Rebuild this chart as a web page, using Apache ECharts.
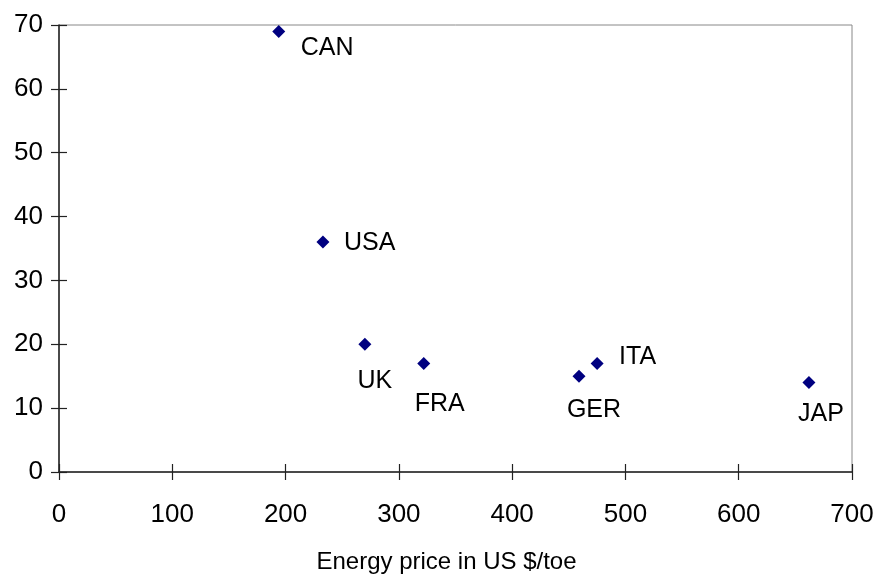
<!DOCTYPE html>
<html>
<head>
<meta charset="utf-8">
<script src="https://cdn.jsdelivr.net/npm/echarts@6/dist/echarts.min.js"></script>
<style>
html,body{margin:0;padding:0;background:#fff;}
#chart{width:882px;height:579px;}
</style>
</head>
<body>
<div id="chart"></div>
<script>
// Data
var countries = ['CAN', 'USA', 'UK', 'FRA', 'GER', 'ITA', 'JAP'];
var energyPrice = [194, 233, 270, 322, 459, 475, 662];
var yValues = [69, 36, 20, 17, 15, 17, 14];
var xTicks = [0, 100, 200, 300, 400, 500, 600, 700];
var yTicks = [0, 10, 20, 30, 40, 50, 60, 70];
var xTitle = 'Energy price in US $/toe';

// label layout (styling, kept apart from data)
var labelLayout = {
  CAN: {align: 'left', offset: [22, 17]},
  USA: {align: 'left', offset: [21, 1]},
  UK:  {align: 'center', offset: [10, 37]},
  FRA: {align: 'center', offset: [16, 41]},
  GER: {align: 'center', offset: [15, 34]},
  ITA: {align: 'left', offset: [22, -6]},
  JAP: {align: 'center', offset: [12, 32]}
};

var FONT = '"Liberation Sans", Arial, sans-serif';
var points = countries.map(function (c, i) {
  var l = labelLayout[c];
  return {
    name: c,
    value: [energyPrice[i], yValues[i]],
    label: {show: true, formatter: c, position: 'inside', align: l.align, verticalAlign: 'middle', offset: l.offset}
  };
});

var chart = echarts.init(document.getElementById('chart'), null, {renderer: 'canvas'});
var gridDef = {left: 59, right: 30, top: 25, bottom: 104, show: true, borderColor: '#888888', borderWidth: 1, backgroundColor: 'transparent'};
var xMin = xTicks[0], xMax = xTicks[xTicks.length - 1];
var yMin = yTicks[0], yMax = yTicks[yTicks.length - 1];

chart.setOption({
  animation: false,
  backgroundColor: '#ffffff',
  grid: gridDef,
  xAxis: [{
    type: 'value', min: xMin, max: xMax, interval: 100,
    axisLine: {show: true, lineStyle: {color: '#222222', width: 1.5}},
    axisTick: {show: true, inside: false, length: 8, lineStyle: {color: '#222222', width: 1.2}},
    axisLabel: {color: '#000', fontSize: 26, fontFamily: FONT, margin: 30},
    splitLine: {show: false},
    name: xTitle, nameLocation: 'middle', nameGap: 78,
    nameTextStyle: {color: '#000', fontSize: 24, fontFamily: FONT, padding: [0, 18, 0, 0]}
  }, {
    type: 'value', min: xMin, max: xMax, interval: 100, position: 'bottom',
    axisLine: {show: false},
    axisTick: {show: true, inside: true, length: 8, lineStyle: {color: '#222222', width: 1.2}},
    axisLabel: {show: false}, splitLine: {show: false}
  }],
  yAxis: [{
    type: 'value', min: yMin, max: yMax, interval: 10,
    axisLine: {show: true, lineStyle: {color: '#222222', width: 1.5}},
    axisTick: {show: true, inside: false, length: 8, lineStyle: {color: '#222222', width: 1.2}},
    axisLabel: {color: '#000', fontSize: 26, fontFamily: FONT, margin: 16},
    splitLine: {show: false}
  }, {
    type: 'value', min: yMin, max: yMax, interval: 10, position: 'left',
    axisLine: {show: false},
    axisTick: {show: true, inside: true, length: 8, lineStyle: {color: '#222222', width: 1.2}},
    axisLabel: {show: false}, splitLine: {show: false}
  }],
  series: [{
    type: 'scatter',
    symbol: 'diamond',
    symbolSize: 13,
    itemStyle: {color: '#000080', opacity: 1},
    label: {color: '#000', fontSize: 25, fontFamily: FONT},
    data: points
  }]
});
</script>
</body>
</html>
